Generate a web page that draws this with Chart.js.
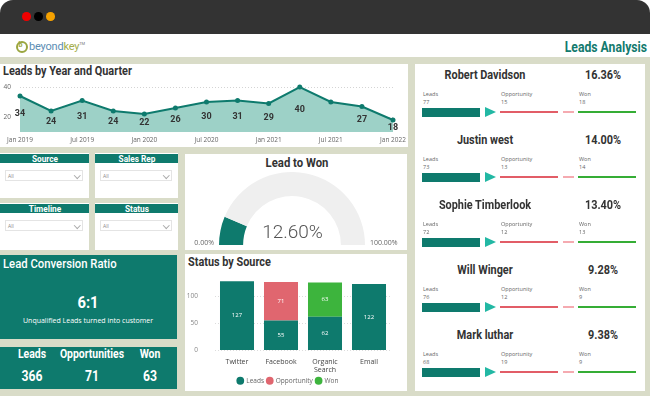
<!DOCTYPE html>
<html>
<head>
<meta charset="utf-8">
<script src="https://cdn.jsdelivr.net/npm/chart.js@4.4.1/dist/chart.umd.min.js"></script>
<style>
  body { margin:0; width:650px; height:396px; position:relative; overflow:hidden; background:#fff; font-family:'Open Sans', Roboto, sans-serif; }
  .b { position:absolute; }
  .t { position:absolute; white-space:nowrap; line-height:1; }
  .nar { font-family:Roboto, sans-serif; font-weight:bold; }
  .topbar { left:0; top:0; width:650px; height:34px; background:#333; border-radius:13px 13px 0 0; }
  .dot { position:absolute; top:12.4px; width:8.6px; height:8.6px; border-radius:50%; }
  .bg { left:0; top:57px; width:650px; height:339px; background:#d9dcc8; }
  .panel { position:absolute; background:#fff; }
  .teal { position:absolute; background:#0e7a6d; }
  .cv { position:absolute; }
</style>
</head>
<body>
<div class="b topbar"></div>
<div class="dot" style="left:22.4px;background:#f00000"></div>
<div class="dot" style="left:34px;background:#000"></div>
<div class="dot" style="left:46.4px;background:#f5a100"></div>
<div class="b bg"></div>

<div class="panel" style="left:0;top:64px;width:408px;height:83px"></div>
<div class="panel" style="left:185px;top:154px;width:222px;height:96px"></div>
<div class="panel" style="left:185px;top:254px;width:222px;height:137px"></div>
<div class="panel" style="left:415px;top:64px;width:230px;height:327px"></div>
<div class="teal" style="left:0;top:255px;width:177px;height:84px"></div>
<div class="teal" style="left:0;top:347px;width:177px;height:42px"></div>

<div class="cv" style="left:0;top:80px;width:408px;height:67px"><canvas id="lineC"></canvas></div>
<div class="cv" style="left:219px;top:172px;width:146px;height:73px"><canvas id="gaugeC"></canvas></div>
<div class="cv" style="left:185px;top:270px;width:221px;height:124px"><canvas id="barC"></canvas></div>

<script>
const quarters = ['Jan 2019','Apr 2019','Jul 2019','Oct 2019','Jan 2020','Apr 2020','Jul 2020','Oct 2020','Jan 2021','Apr 2021','Jul 2021','Oct 2021','Jan 2022'];
const leadsByQuarter = [34, 24, 31, 24, 22, 26, 30, 31, 29, 40, 30, 27, 18];
const hiddenLabels = [10];

const sources = ['Twitter', 'Facebook', ['Organic', 'Search'], 'Email'];
const sourceLeads = [127, 55, 62, 122];
const sourceOpportunity = [null, 71, null, null];
const sourceWon = [null, null, 63, null];

const leadToWon = 12.6;
const conversionRatio = '6:1';
const kpiLabels = ['Leads', 'Opportunities', 'Won'];
const kpiValues = [366, 71, 63];
const slicers = ['Source', 'Sales Rep', 'Timeline', 'Status'];

const repNames = ['Robert Davidson', 'Justin west', 'Sophie Timberlook', 'Will Winger', 'Mark luthar'];
const repRates = ['16.36%', '14.00%', '13.40%', '9.28%', '9.38%'];
const repLeads = [77, 73, 72, 76, 68];
const repOpps = [15, 13, 12, 12, 19];
const repWon = [18, 14, 13, 9, 9];

const TEAL = '#0e7a6d';
const SQUEEZE = 0.87; // the dashboard font is a condensed one
Chart.defaults.font.family = "'Open Sans', Roboto, sans-serif";

function put(x, y, text, css, align, narrow) {
  const d = document.createElement('div');
  d.className = narrow ? 't nar' : 't';
  d.textContent = text;
  d.style.cssText = css;
  d.style.left = x + 'px';
  d.style.top = y + 'px';
  const tx = align === 'left' ? '0' : align === 'right' ? '-100%' : '-50%';
  d.style.transformOrigin = align === 'left' ? 'left center' : align === 'right' ? 'right center' : 'center';
  d.style.transform = 'translate(' + tx + ',-50%)' + (narrow ? ' scaleX(' + SQUEEZE + ')' : '');
  document.body.appendChild(d);
  return d;
}
function rect(x, y, w, h, css) {
  const d = document.createElement('div');
  d.className = 'b';
  d.style.cssText = 'left:' + x + 'px;top:' + y + 'px;width:' + w + 'px;height:' + h + 'px;' + (css || '');
  document.body.appendChild(d);
  return d;
}

// header
rect(15.5, 40.5, 8, 8, 'border:2px solid #9aa640;border-radius:50%');
put(20.5, 45, 'b', 'font:bold 7px Roboto,sans-serif;color:#9aa640');
const brand = put(29, 46, '', 'font:11px Roboto,sans-serif;letter-spacing:-0.2px', 'left');
brand.innerHTML = '<span style="color:#5b8db3">beyond</span><span style="color:#a3ad4a">key</span><sup style="font-size:4px;color:#777">TM</sup>';
put(647, 46.5, 'Leads Analysis', 'font-size:14px;color:#137a6e', 'right', true);

// panel titles
put(3, 70.5, 'Leads by Year and Quarter', 'font-size:12.5px;color:#333', 'left', true);
put(296.5, 162, 'Lead to Won', 'font-size:13px;color:#333', 'center', true);
put(188, 262, 'Status by Source', 'font-size:12.5px;color:#333', 'left', true);

// slicers
const slicerBox = [[0, 153, 89, 45], [95, 153, 83, 45], [0, 203, 89, 47], [95, 203, 83, 47]];
slicers.forEach((s, i) => {
  const [x, y, w, h] = slicerBox[i];
  rect(x, y, w, h, 'background:#fff');
  rect(x, y + 1, w, 9, 'background:' + TEAL);
  put(x + w / 2, y + 5.5, s, 'font-size:9.5px;color:#fff', 'center', true);
  rect(x + 5, y + 17, w - 11, 11, 'box-sizing:border-box;border:1px solid #e4e4e4');
  put(x + 8, y + 22.5, 'All', 'font-size:5px;color:#888', 'left');
  rect(x + w - 14, y + 19.5, 3.5, 3.5, 'border-right:1px solid #aaa;border-bottom:1px solid #aaa;transform:rotate(45deg)');
});

// gauge texts
put(292.5, 230.5, leadToWon.toFixed(2) + '%', 'font:300 19px Roboto,sans-serif;color:#555');
put(214, 241.5, '0.00%', 'font-size:7px;color:#666', 'right');
put(370, 241.5, '100.00%', 'font-size:7px;color:#666', 'left');

// conversion ratio card
put(3, 263, 'Lead Conversion Ratio', 'font-size:13px;font-weight:500;color:#fff', 'left', true);
put(88, 301.5, conversionRatio, 'font-size:17px;color:#fff', 'center', true);
put(88, 320, 'Unqualified Leads turned into customer', 'font-size:7px;color:#fff');
const kpiX = [32, 91.5, 150];
kpiLabels.forEach((l, i) => {
  put(kpiX[i], 353.5, l, 'font-size:12px;color:#fff', 'center', true);
  put(kpiX[i], 376, String(kpiValues[i]), 'font-size:14px;color:#fff', 'center', true);
});

// sales rep funnels
repNames.forEach((n, i) => {
  const by = 112 + i * 65;
  put(485, by - 37, n, 'font-size:12.5px;color:#333', 'center', true);
  put(603, by - 37, repRates[i], 'font-size:12.5px;color:#333', 'center', true);
  [['Leads', repLeads[i], 423], ['Opportunity', repOpps[i], 501], ['Won', repWon[i], 579]].forEach(([l, v, x]) => {
    put(x, by - 17, l, 'font-size:5.5px;color:#666', 'left');
    put(x, by - 9.5, String(v), 'font-size:5.5px;color:#666', 'left');
  });
  rect(422, by - 4.5, 58, 9, 'background:' + TEAL);
  rect(485, by - 5, 0, 0, 'border-left:11px solid #22b8a4;border-top:5px solid transparent;border-bottom:5px solid transparent');
  rect(500, by - 1, 58, 2, 'background:#e25d67');
  rect(563, by - 0.75, 11, 1.5, 'background:#f5aab0');
  rect(578, by - 1, 58, 2, 'background:#35ad35');
});

// keep the axis boxes exactly the size asked for
function noPad(s) { s.paddingTop = 0; s.paddingBottom = 0; s.paddingLeft = 0; s.paddingRight = 0; }

// line chart, labels sit halfway between the point and the baseline
const lineLabels = {
  id: 'lineLabels',
  afterDatasetsDraw(chart) {
    const ctx = chart.ctx;
    const meta = chart.getDatasetMeta(0);
    const bottom = chart.chartArea.bottom;
    ctx.save();
    ctx.font = 'bold 9px Roboto, sans-serif';
    ctx.fillStyle = '#333';
    ctx.textAlign = 'center';
    ctx.textBaseline = 'middle';
    meta.data.forEach((p, i) => {
      if (hiddenLabels.includes(i)) return;
      ctx.fillText(leadsByQuarter[i], p.x, Math.max((p.y + bottom) / 2, p.y + 8));
    });
    ctx.restore();
  }
};

new Chart(document.getElementById('lineC'), {
  type: 'line',
  data: {
    labels: quarters,
    datasets: [{
      data: leadsByQuarter,
      borderColor: TEAL,
      backgroundColor: '#9dd1c7',
      fill: 'start',
      borderWidth: 2,
      pointRadius: 2.5,
      pointBackgroundColor: TEAL,
      pointBorderWidth: 0,
      tension: 0
    }]
  },
  options: {
    responsive: true,
    maintainAspectRatio: false,
    animation: false,
    events: [],
    layout: { padding: { top: 3, right: 15, left: 0, bottom: 0 } },
    plugins: { legend: { display: false }, tooltip: { enabled: false } },
    scales: {
      x: {
        grid: { display: false, drawTicks: false },
        border: { display: false },
        ticks: { autoSkip: false, maxRotation: 0, padding: 4, color: '#666', font: { size: 6.5 },
          callback: (v, i) => (i % 2 === 0 ? quarters[i] : '') },
        afterFit: s => { s.height = 15; noPad(s); }
      },
      y: {
        min: 10, max: 42,
        afterBuildTicks: s => { s.ticks = [{ value: 20 }, { value: 40 }]; },
        grid: { color: '#d4d4d4', drawTicks: false },
        border: { display: false, dash: [1, 2] },
        ticks: { padding: 9, color: '#666', font: { size: 6.5 } },
        afterFit: s => { s.width = 20; noPad(s); }
      }
    }
  },
  plugins: [lineLabels]
});

// gauge
new Chart(document.getElementById('gaugeC'), {
  type: 'doughnut',
  data: { datasets: [{ data: [leadToWon, 100 - leadToWon], backgroundColor: [TEAL, '#efefef'], borderWidth: 0 }] },
  options: {
    responsive: true, maintainAspectRatio: false, animation: false, events: [],
    rotation: -90, circumference: 180, cutout: '67%',
    plugins: { legend: { display: false }, tooltip: { enabled: false } }
  }
});

// stacked bars
const barLabels = {
  id: 'barLabels',
  afterDatasetsDraw(chart) {
    const ctx = chart.ctx;
    ctx.save();
    ctx.font = '6px "Open Sans", Roboto, sans-serif';
    ctx.fillStyle = '#fff';
    ctx.textAlign = 'center';
    ctx.textBaseline = 'middle';
    chart.data.datasets.forEach((ds, di) => {
      chart.getDatasetMeta(di).data.forEach((el, i) => {
        const v = ds.data[i];
        if (v == null) return;
        ctx.fillText(v, el.x, (el.y + el.base) / 2);
      });
    });
    ctx.restore();
  }
};

new Chart(document.getElementById('barC'), {
  type: 'bar',
  data: {
    labels: sources,
    datasets: [
      { label: 'Leads', data: sourceLeads, backgroundColor: TEAL },
      { label: 'Opportunity', data: sourceOpportunity, backgroundColor: '#e0666f' },
      { label: 'Won', data: sourceWon, backgroundColor: '#3db43d' }
    ]
  },
  options: {
    responsive: true, maintainAspectRatio: false, animation: false, events: [],
    layout: { padding: { top: 7, right: 15, left: 0, bottom: 0 } },
    datasets: { bar: { categoryPercentage: 1, barPercentage: 0.773 } },
    plugins: {
      legend: { position: 'bottom', labels: { usePointStyle: true, pointStyle: 'circle', boxWidth: 5.5, boxHeight: 5.5, padding: 3, color: '#666', font: { size: 6.5 } } },
      tooltip: { enabled: false }
    },
    scales: {
      x: {
        stacked: true,
        grid: { display: false, drawTicks: false },
        border: { display: false },
        ticks: { padding: 7, color: '#444', font: { size: 7, lineHeight: 1.15 } },
        afterFit: s => { s.height = 24; noPad(s); }
      },
      y: {
        stacked: true, min: 0, max: 135,
        afterBuildTicks: s => { s.ticks = [{ value: 0 }, { value: 50 }, { value: 100 }]; },
        grid: { color: '#dcdcdc', drawTicks: false },
        border: { display: false, dash: [1, 2] },
        ticks: { padding: 17, color: '#888', font: { size: 6.5 } },
        afterFit: s => { s.width = 30; noPad(s); }
      }
    }
  },
  plugins: [barLabels]
});
</script>
</body>
</html>
